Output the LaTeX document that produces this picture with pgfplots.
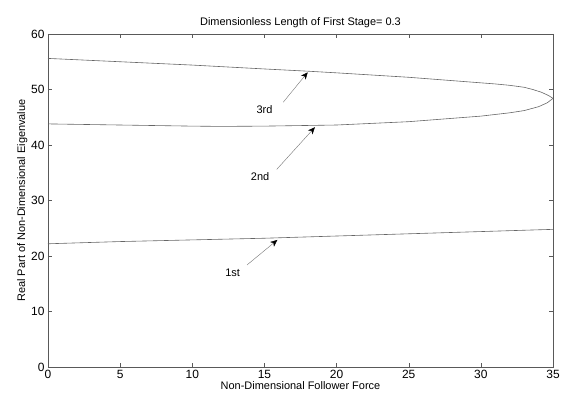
\documentclass[border=0pt]{standalone}
\usepackage{pgfplots}
\pgfplotsset{compat=1.18}
\usepackage{fontspec}
\setmainfont{Liberation Sans}
\usetikzlibrary{arrows.meta}

\begin{document}
\begin{tikzpicture}
\begin{axis}[
    name=ax,
    scale only axis,
    width=505bp,
    height=333bp,
    xmin=0, xmax=35,
    ymin=0, ymax=60,
    xtick={0,5,...,35},
    ytick={0,10,...,60},
    tick align=inside,
    major tick length=4bp,
    axis line style={draw=black!65},
    every tick/.style={black!65},
    tick label style={font=\fontsize{12}{13}\selectfont},
    /pgf/number format/assume math mode=true,
    title={Dimensionless Length of First Stage= 0.3},
    title style={font=\fontsize{11}{12}\selectfont, yshift=-3bp},
    xlabel={Non-Dimensional Follower Force},
    ylabel={Real Part of Non-Dimensional Eigenvalue},
    label style={font=\fontsize{11}{12}\selectfont},
    xlabel style={yshift=4bp},
    ylabel style={yshift=-3bp},
]
% 1st
\addplot[black!60, line width=0.6pt] coordinates {
  (0,22.2) (5,22.6) (10,22.9) (15,23.2) (20,23.6) (25,24.0) (30,24.4) (35,24.8)
};
% 2nd
\addplot[black!60, line width=0.6pt] coordinates {
  (0,43.8) (5,43.6) (10,43.4) (12,43.35) (15,43.4) (20,43.6) (25,44.2) (28,44.8)
  (30,45.2) (32,45.8) (33,46.2) (34,46.9) (34.6,47.6) (35,48.4)
};
% 3rd
\addplot[black!60, line width=0.6pt] coordinates {
  (0,55.6) (5,55.0) (10,54.4) (15,53.7) (18,53.3) (20,53.0) (25,52.2) (30,51.2)
  (31,51.0) (32,50.75) (33,50.4) (33.6,50.0) (34.2,49.5) (34.7,48.9) (35,48.4)
};
\draw[black!55, -{Stealth[black, length=7bp, width=6bp, inset=2bp]}] (axis cs:16.3,47.7) -- (axis cs:18.0,53.1);
\node[font=\fontsize{11}{12}\selectfont] at (axis cs:15.0,46.4) {3rd};
\draw[black!55, -{Stealth[black, length=7bp, width=6bp, inset=2bp]}] (axis cs:15.85,35.6) -- (axis cs:18.5,43.2);
\node[font=\fontsize{11}{12}\selectfont] at (axis cs:14.7,34.3) {2nd};
\draw[black!55, -{Stealth[black, length=7bp, width=6bp, inset=2bp]}] (axis cs:13.8,18.4) -- (axis cs:15.9,22.9);
\node[font=\fontsize{11}{12}\selectfont] at (axis cs:12.8,17.0) {1st};
\end{axis}
\pgfresetboundingbox
\path ([shift={(-48bp,-35bp)}]ax.south west) rectangle ([shift={(10bp,34bp)}]ax.north east);
\end{tikzpicture}
\end{document}
